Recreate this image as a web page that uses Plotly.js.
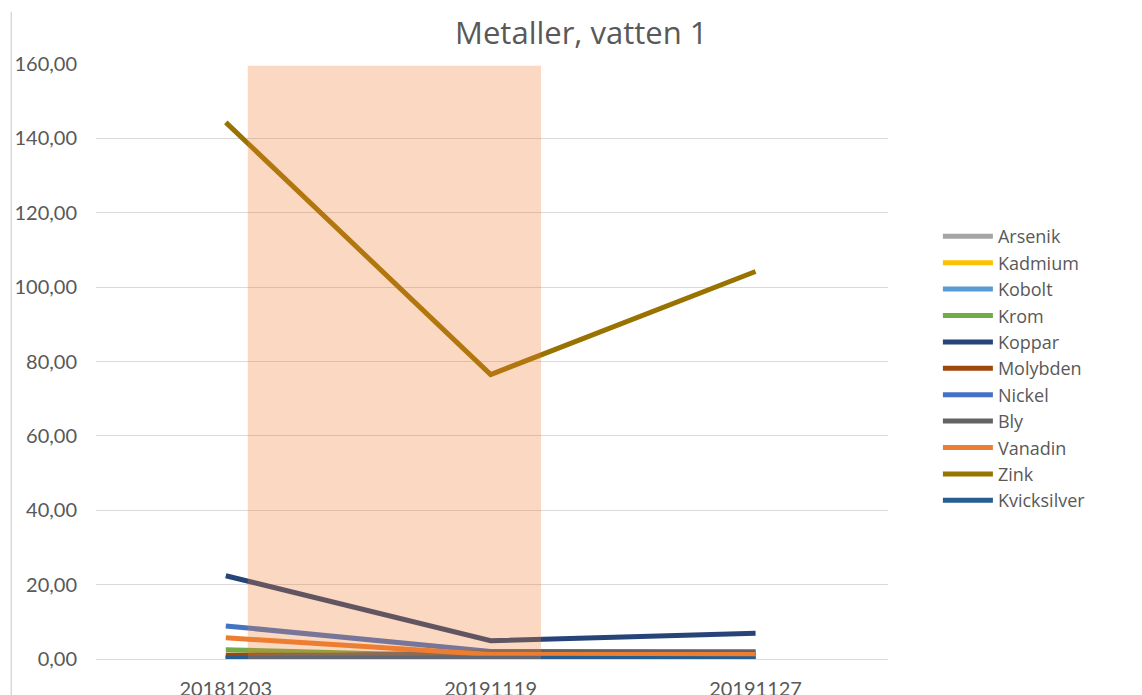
<!DOCTYPE html>
<html>
<head>
<meta charset="utf-8">
<script src="https://cdn.plot.ly/plotly-3.0.1.min.js"></script>
<style>html,body{margin:0;padding:0;background:#fff;}#chart{width:1142px;height:695px;}</style>
</head>
<body>
<div id="chart"></div>
<script>
const dates = ["20181203", "20191119", "20191127"];
const seriesNames = ["Arsenik","Kadmium","Kobolt","Krom","Koppar","Molybden","Nickel","Bly","Vanadin","Zink","Kvicksilver"];
const arsenik     = [0.40, 0.30, 0.30];
const kadmium     = [0.03, 0.02, 0.02];
const kobolt      = [0.30, 0.20, 0.20];
const krom        = [2.50, 0.60, 0.60];
const koppar      = [22.40, 4.90, 6.90];
const molybden    = [1.00, 0.90, 0.90];
const nickel      = [8.90, 2.00, 1.90];
const bly         = [0.30, 1.90, 1.90];
const vanadin     = [5.70, 1.20, 1.20];
const zink        = [144.3, 76.5, 104.2];
const kvicksilver = [0.25, 0.10, 0.10];
const yTicks = [0, 20, 40, 60, 80, 100, 120, 140, 160];

const values = [arsenik, kadmium, kobolt, krom, koppar, molybden, nickel, bly, vanadin, zink, kvicksilver];
const colors = ["#A5A5A5","#FFC000","#5B9BD5","#70AD47","#264478","#9E480E","#4472C4","#636363","#ED7D31","#997300","#255E91"];

const FONT = "Lato, 'Open Sans', sans-serif";
const FONT2 = "'Open Sans', Lato, sans-serif";
const traces = seriesNames.map((n, i) => ({
  type: "scatter",
  mode: "lines",
  name: n,
  x: dates,
  y: values[i],
  line: {color: colors[i], width: 5}
}));

const layout = {
  width: 1142, height: 695,
  margin: {l: 96, r: 254, t: 64, b: 36},
  paper_bgcolor: "#fff", plot_bgcolor: "#fff",
  separators: ",.",
  font: {family: FONT, color: "#595959", size: 20},
  title: {text: "Metaller, vatten 1", font: {family: FONT2, size: 31, color: "#595959"},
          xref: "container", x: 0.509, xanchor: "center", yref: "container", y: 0.953, yanchor: "middle"},
  xaxis: {type: "category", range: [-0.49, 2.5], showgrid: false, zeroline: false, showline: false,
          ticks: "", tickfont: {size: 20, color: "#595959"}, ticklabelstandoff: 16, fixedrange: true},
  yaxis: {range: [0, 160], tickvals: yTicks, tickformat: ".2f", showgrid: true, gridcolor: "#D9D9D9", gridwidth: 1,
          zeroline: true, zerolinecolor: "#D9D9D9", zerolinewidth: 1, showline: false, ticks: "",
          tickfont: {size: 20, color: "#595959"}, ticklabelstandoff: 18, fixedrange: true},
  legend: {x: 1.063, xanchor: "left", y: 0.741, yanchor: "top", font: {family: FONT2, size: 18, color: "#595959"},
           bgcolor: "rgba(0,0,0,0)", itemwidth: 50, traceorder: "normal"},
  shapes: [
    {type: "rect", xref: "x", yref: "y", x0: 0.083, x1: 1.19, y0: 0, y1: 159.5, layer: "above",
     fillcolor: "rgba(237,125,49,0.3)", line: {width: 0}},
    {type: "line", xref: "paper", yref: "paper", x0: -0.107, x1: -0.107, y0: -0.07, y1: 1.088,
     line: {color: "#D9D9D9", width: 1.5}}
  ]
};
Plotly.newPlot("chart", traces, layout, {displayModeBar: false, staticPlot: true});
</script>
</body>
</html>
